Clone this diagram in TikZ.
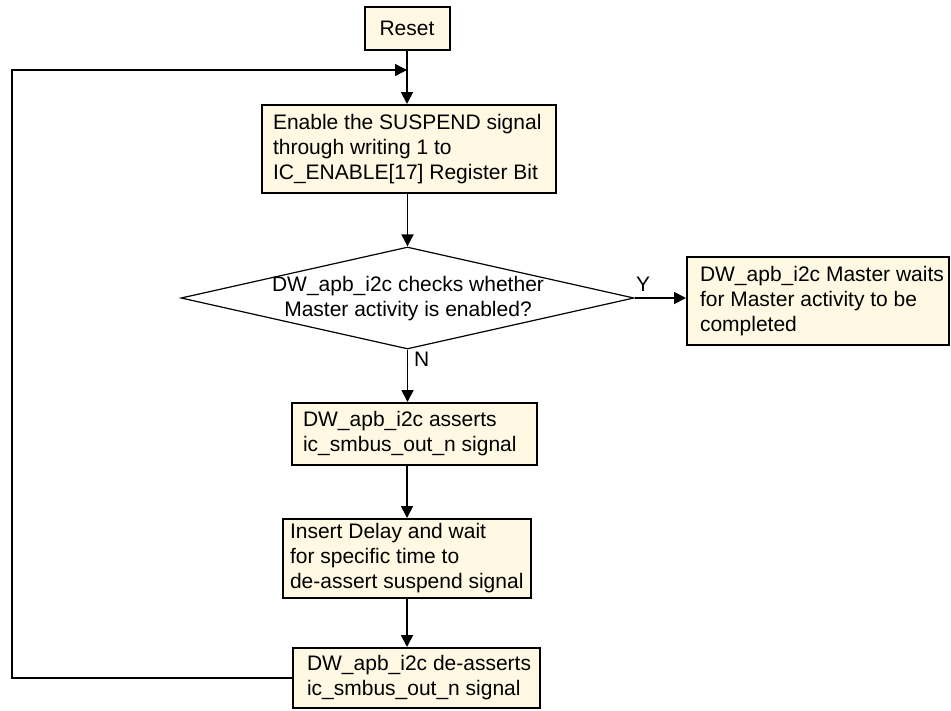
\documentclass[tikz,border=0pt]{standalone}
\usepackage{fontspec}
\setmainfont{Liberation Sans}
\usetikzlibrary{shapes.geometric,arrows.meta}
\definecolor{cream}{HTML}{FFF8E3}
\newcommand{\bxt}[3]{\makebox[#1pt][l]{\hspace*{#2pt}\begin{tabular}{@{}l@{}}#3\end{tabular}}}
\begin{document}
\begin{tikzpicture}[x=1pt,y=-1pt,
  txt/.style={font=\fontsize{21}{25}\selectfont},
  box/.style={draw,line width=2pt,fill=cream,txt,inner xsep=0pt,inner ysep=2pt},
  dec/.style={draw,line width=1.2pt,diamond,inner sep=0pt,minimum width=453pt,minimum height=102pt},
  arr/.style={line width=1.8pt,-{Triangle[length=12pt,width=12pt]}},
  looparr/.style={line width=1.3pt,-{Triangle[length=12pt,width=12pt]}},
  lbl/.style={txt,inner sep=0pt}]
\useasboundingbox (0,0) rectangle (951,710);

\node[box,minimum width=85pt,minimum height=43pt] (reset) at (407,28.5) {Reset};
\node[box,minimum height=88pt] (enable) at (409,149)
  {\bxt{294}{11}{Enable the SUSPEND signal\\through writing 1 to\\IC\_ENABLE[17] Register Bit}};
\node[dec] (dec) at (407.5,298) {};
\node[lbl,align=center] (dectext) at (408,299)
  {DW\_apb\_i2c checks whether\\Master activity is enabled?};
\node[box,minimum height=88pt] (wait) at (818,301)
  {\bxt{262}{13}{DW\_apb\_i2c Master waits\\for Master activity to be\\completed}};
\node[box,minimum height=62pt] (assert) at (414.5,434)
  {\bxt{245}{11}{DW\_apb\_i2c asserts\\ic\_smbus\_out\_n signal}};
\node[box,minimum height=75pt] (delay) at (407,558.5)
  {\bxt{248}{7}{Insert Delay and wait\\for specific time to\\de-assert suspend signal}};
\node[box,minimum height=60pt] (deassert) at (416.5,678)
  {\bxt{247}{14}{DW\_apb\_i2c de-asserts\\ic\_smbus\_out\_n signal}};

\node[lbl,anchor=south] (ylbl) at (643,292) {Y};
\node[lbl,anchor=north west] (nlbl) at (414,352) {N};

\coordinate (j) at (reset.south |- 0,70);
\coordinate (lcorner) at (12,70);

\draw[arr] (reset.south) -- (reset.south |- enable.north);
\draw[arr] (dec.north |- enable.south) -- (dec.north);
\draw[arr] (dec.east) -- (dec.east -| wait.west);
\draw[arr] (dec.south) -- (dec.south |- assert.north);
\draw[arr] (delay.north |- assert.south) -- (delay.north);
\draw[arr] (delay.south) -- (delay.south |- deassert.north);
\draw[looparr] (deassert.west) -| (lcorner) -- (j);
\end{tikzpicture}
\end{document}
